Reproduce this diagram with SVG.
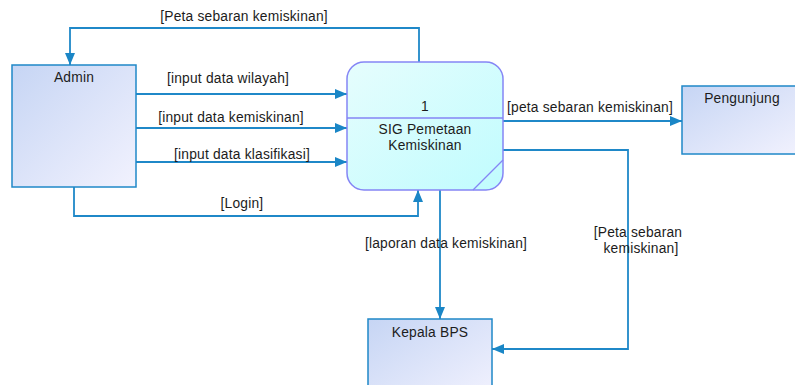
<svg xmlns="http://www.w3.org/2000/svg" width="795" height="385" viewBox="0 0 795 385">
  <defs>
    <linearGradient id="entityFill" x1="0" y1="0" x2="1" y2="1">
      <stop offset="0" stop-color="#c6d5f4"/>
      <stop offset="1" stop-color="#f2f2fe"/>
    </linearGradient>
    <linearGradient id="processFill" x1="0" y1="0" x2="1" y2="1">
      <stop offset="0" stop-color="#e6fdfd"/>
      <stop offset="1" stop-color="#c0fcfe"/>
    </linearGradient>
    <marker id="arrow" viewBox="0 0 12 10" refX="12" refY="5" markerWidth="12" markerHeight="10" markerUnits="userSpaceOnUse" orient="auto">
      <path d="M0,0 L12,5 L0,10 Z" fill="#1a86c6"/>
    </marker>
    <style>
      .entity { fill: url(#entityFill); stroke: #1f88c8; stroke-width: 1.5; }
      .process { fill: url(#processFill); stroke: #8585f5; stroke-width: 1.5; }
      .flow { fill: none; stroke: #1f88c8; stroke-width: 1.8; }
      text { font-family: "Liberation Sans", Arial, sans-serif; font-size: 13.8px; fill: #1c1c1c; text-anchor: middle; letter-spacing: 0.2px; }
    </style>
  </defs>

  <!-- connectors -->
  <g id="connectors">
    <path class="flow" d="M419,62 V28 H70 V65" marker-end="url(#arrow)"/>
    <text x="244" y="21">[Peta sebaran kemiskinan]</text>

    <path class="flow" d="M136,94 H347" marker-end="url(#arrow)"/>
    <text x="228" y="83">[input data wilayah]</text>

    <path class="flow" d="M136,128 H347" marker-end="url(#arrow)"/>
    <text x="231" y="122">[input data kemiskinan]</text>

    <path class="flow" d="M136,162 H347" marker-end="url(#arrow)"/>
    <text x="242" y="159">[input data klasifikasi]</text>

    <path class="flow" d="M74,187 V216 H418 V190" marker-end="url(#arrow)"/>
    <text x="242" y="208">[Login]</text>

    <path class="flow" d="M503,121 H682" marker-end="url(#arrow)"/>
    <text x="590" y="112">[peta sebaran kemiskinan]</text>

    <path class="flow" d="M503,150 H628 V349 H492" marker-end="url(#arrow)"/>
    <text x="638" y="237">[Peta sebaran</text>
    <text x="641" y="253">kemiskinan]</text>

    <path class="flow" d="M440,190 V319" marker-end="url(#arrow)"/>
    <text x="446" y="248">[laporan data kemiskinan]</text>
  </g>

  <!-- external entities and process -->
  <g id="admin">
    <rect class="entity" x="12" y="65" width="124" height="122"/>
    <text x="74" y="82">Admin</text>
  </g>

  <g id="process-1">
    <rect class="process" x="347" y="62" width="156" height="128" rx="17" ry="17"/>
    <line x1="347" y1="118" x2="503" y2="118" stroke="#8585f5" stroke-width="1.3"/>
    <line x1="473" y1="190" x2="503" y2="160" stroke="#8585f5" stroke-width="1.3"/>
    <text x="425" y="111">1</text>
    <text x="425" y="134">SIG Pemetaan</text>
    <text x="425" y="150">Kemiskinan</text>
  </g>

  <g id="pengunjung">
    <rect class="entity" x="682" y="86" width="120" height="68"/>
    <text x="742" y="103">Pengunjung</text>
  </g>

  <g id="kepala-bps">
    <rect class="entity" x="368" y="319" width="124" height="80"/>
    <text x="430" y="337">Kepala BPS</text>
  </g>
</svg>
